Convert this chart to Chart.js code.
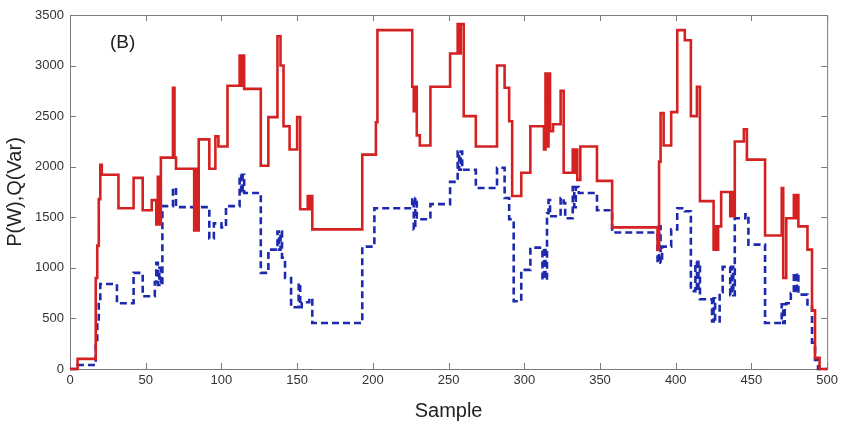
<!DOCTYPE html>
<html>
<head>
<meta charset="utf-8">
<script src="https://cdn.jsdelivr.net/npm/chart.js@4.4.1/dist/chart.umd.min.js"></script>
<style>
html,body{margin:0;padding:0;background:#fff;}
#wrap{width:842px;height:423px;}
</style>
</head>
<body>
<div id="wrap"><canvas id="chart" width="842" height="423"></canvas></div>
<script>
// tick labels
const xTicks = [0, 50, 100, 150, 200, 250, 300, 350, 400, 450, 500];
const yTicks = [0, 500, 1000, 1500, 2000, 2500, 3000, 3500];

// P (W) - sample where a new level starts, and that level
const pSample = [0, 5, 17, 18, 19, 20, 21, 32, 42, 48, 54, 57, 58, 59, 60, 68, 69, 70, 82, 83, 84, 85,
  92, 96, 98, 104, 112, 113, 114, 115, 126, 131, 137, 139, 141, 145, 150, 152, 157, 158, 159, 160,
  193, 202, 203, 226, 227, 228, 229, 231, 238, 251, 256, 257, 258, 260, 268, 282, 287, 290, 292,
  298, 304, 313, 314, 315, 316, 317, 319, 324, 326, 332, 333, 334, 335, 337, 348, 358,
  388, 389, 390, 392, 397, 401, 406, 410, 414, 416, 425, 426, 427, 428, 430, 436, 437, 438, 439,
  445, 447, 459, 470, 471, 473, 478, 479, 480, 481, 487, 490, 492, 495, 500];
const pPower = [0, 100, 900, 1220, 1680, 2020, 1920, 1590, 1890, 1570, 1670, 1430, 1900, 1430, 2090, 2780, 2090, 1980, 1370, 1980, 1370, 2270,
  1980, 2300, 2200, 2800, 3100, 2800, 3100, 2770, 2010, 2490, 3290, 3000, 2400, 2170, 2490, 1580, 1710, 1580, 1710, 1380,
  2120, 2440, 3350, 2790, 2550, 2790, 2310, 2210, 2790, 3120, 3410, 3120, 3410, 2500, 2200, 3000, 2780, 2450, 1710,
  1940, 2400, 2170, 2920, 2200, 2920, 2350, 2420, 2750, 1940, 2170, 1940, 2170, 1870, 2200, 1860, 1400,
  1180, 2050, 2530, 2210, 2540, 3350, 3250, 2500, 2790, 1660, 1180, 1410, 1180, 1410, 1750, 1510, 1750, 1510, 2250,
  2370, 2070, 1320, 1790, 900, 1490, 1720, 1490, 1720, 1410, 1180, 580, 110, 0, 0];

// Q (Var)
const qSample = [0, 5, 17, 18, 19, 20, 31, 42, 48, 56, 57, 58, 59, 60, 61, 68, 70,
  92, 95, 100, 103, 112, 113, 114, 115, 126, 131, 137, 138, 139, 140, 142, 146, 151, 152, 153, 158, 160,
  193, 201, 226, 227, 228, 229, 238, 251, 256, 257, 258, 259, 268, 282, 287, 290, 293, 298, 304,
  312, 313, 314, 315, 316, 317, 324, 326, 327, 332, 333, 334, 336, 348, 358,
  388, 389, 390, 391, 397, 401, 406, 410, 413, 414, 415, 416, 424, 425, 426, 429, 431, 436, 437, 438, 439,
  446, 448, 459, 470, 471, 472, 473, 476, 478, 479, 480, 481, 487, 490, 492, 494, 500];
const qReactive = [0, 40, 250, 490, 660, 840, 650, 950, 720, 860, 1050, 830, 1000, 830, 1610, 1790, 1600,
  1290, 1440, 1400, 1610, 1920, 1740, 1920, 1740, 950, 1180, 1360, 1180, 1360, 1100, 900, 610, 850, 610, 660, 700, 455,
  1210, 1590, 1690, 1380, 1690, 1480, 1630, 1850, 2150, 1970, 2150, 1970, 1790, 1990, 1690, 1480, 670, 980, 1200,
  880, 1200, 880, 1540, 1670, 1510, 1690, 1640, 1490, 1800, 1600, 1800, 1740, 1570, 1350,
  1050, 1410, 1050, 1210, 1380, 1590, 1560, 770, 1060, 770, 1060, 690, 470, 700, 470, 760, 1010, 730, 1010, 730, 1490,
  1530, 1230, 455, 640, 455, 640, 650, 750, 950, 750, 950, 735, 620, 260, 90, 0, 0];

const FONT = '"Liberation Sans", Arial, Helvetica, sans-serif';

// Rahmen mit Ticks nach innen, wie bei MATLAB
const framePlugin = {
  id: 'frame',
  beforeDatasetsDraw(chart) {
    const { ctx, chartArea: a, scales: { x, y } } = chart;
    ctx.save();
    ctx.strokeStyle = '#7a7a7a';
    ctx.lineWidth = 1;
    ctx.strokeRect(a.left + 0.5, a.top + 0.5, a.right - a.left, a.bottom - a.top);
    const len = 6;
    ctx.beginPath();
    xTicks.forEach(v => {
      const px = Math.round(x.getPixelForValue(v)) + 0.5;
      ctx.moveTo(px, a.bottom); ctx.lineTo(px, a.bottom - len);
      ctx.moveTo(px, a.top); ctx.lineTo(px, a.top + len);
    });
    yTicks.forEach(v => {
      const py = Math.round(y.getPixelForValue(v)) + 0.5;
      ctx.moveTo(a.left, py); ctx.lineTo(a.left + len, py);
      ctx.moveTo(a.right, py); ctx.lineTo(a.right - len, py);
    });
    ctx.stroke();
    ctx.fillStyle = '#222';
    ctx.font = '19px ' + FONT;
    ctx.fillText('(B)', a.left + 40, a.top + 33);
    ctx.restore();
  }
};

new Chart(document.getElementById('chart'), {
  type: 'line',
  data: {
    datasets: [
      {
        label: 'P(W)',
        data: pSample.map((s, i) => ({ x: s, y: pPower[i] })),
        borderColor: '#d42222',
        borderWidth: 2.6,
        stepped: 'before',
        pointRadius: 0,
        fill: false,
        clip: 6
      },
      {
        label: 'Q(Var)',
        data: qSample.map((s, i) => ({ x: s, y: qReactive[i] })),
        borderColor: '#1e2aae',
        borderWidth: 2.6,
        borderDash: [7, 4],
        stepped: 'before',
        pointRadius: 0,
        fill: false,
        clip: 6
      }
    ]
  },
  options: {
    responsive: false,
    animation: false,
    layout: { padding: { left: 0, right: 12, top: 15, bottom: 0 } },
    plugins: { legend: { display: false }, tooltip: { enabled: false } },
    scales: {
      x: {
        type: 'linear', min: 0, max: 500,
        afterFit: s => { s.height = 54; },
        afterBuildTicks: s => { s.ticks = xTicks.map(v => ({ value: v })); },
        grid: { display: false, drawTicks: false },
        border: { display: false },
        ticks: { color: '#333', font: { family: FONT, size: 13 }, padding: 4, maxRotation: 0, callback: v => String(v) },
        title: { display: true, text: 'Sample', color: '#222', font: { family: FONT, size: 20 }, padding: { top: 4, bottom: 0 } }
      },
      y: {
        min: 0, max: 3500,
        afterFit: s => { s.width = 70; },
        afterBuildTicks: s => { s.ticks = yTicks.map(v => ({ value: v })); },
        grid: { display: false, drawTicks: false },
        border: { display: false },
        ticks: { color: '#333', font: { family: FONT, size: 13 }, padding: 6, callback: v => String(v) },
        title: { display: true, text: 'P(W),Q(Var)', color: '#222', font: { family: FONT, size: 20 }, padding: { top: 3, bottom: 0 } }
      }
    }
  },
  plugins: [framePlugin]
});
</script>
</body>
</html>
